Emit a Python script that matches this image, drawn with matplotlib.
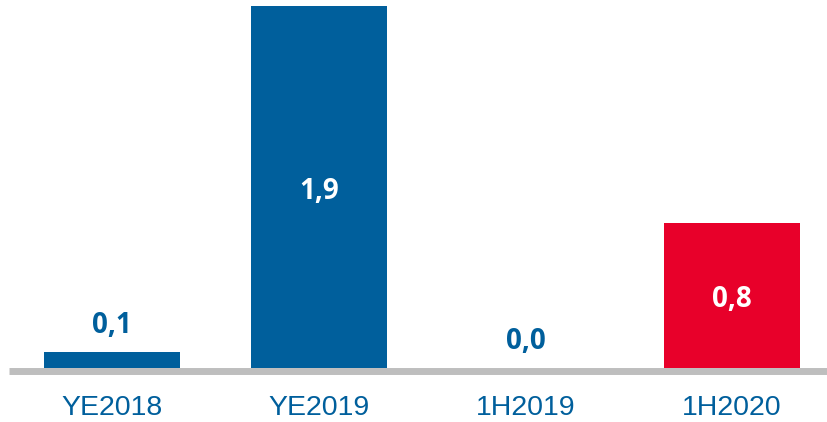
import matplotlib
matplotlib.use("Agg")
import matplotlib.pyplot as plt

categories = ["YE2018", "YE2019", "1H2019", "1H2020"]
values = [0.086, 1.9, 0.0, 0.76]
labels = ["0,1", "1,9", "0,0", "0,8"]
inside = [False, True, False, True]

BLUE = "#005F9C"
RED = "#E8002A"
GREY = "#BEBEBE"
colors = [BLUE, BLUE, BLUE, RED]

W, H = 828, 422
fig = plt.figure(figsize=(W / 100, H / 100), dpi=100)
ax = fig.add_axes([9 / W, 54 / H, (W - 9) / W, 362 / H])

x = list(range(len(categories)))
ax.bar(x, values, width=0.657, color=colors, zorder=3, clip_on=False)
ax.set_xlim(-0.5, 3.464)
ax.set_ylim(0, 1.9)

for s in ["top", "right", "left"]:
    ax.spines[s].set_visible(False)
sp = ax.spines["bottom"]
sp.set_color(GREY)
sp.set_linewidth(5.0)
sp.set_capstyle("butt")
sp.set_position(("outward", 2.5))
ax.set_yticks([])
ax.set_xticks(x)
ax.set_xticklabels(categories, fontsize=20.5, color=BLUE, family="Liberation Sans")
ax.tick_params(axis="x", length=0, pad=17)

for xi, v, lab, ins in zip(x, values, labels, inside):
    if ins:
        ax.annotate(lab, (xi, v / 2), xytext=(0, -3), textcoords="offset points",
                    ha="center", va="center", color="white",
                    fontsize=20, fontweight="bold", family="Open Sans", zorder=4)
    else:
        ax.annotate(lab, (xi, v), xytext=(0, 8.5), textcoords="offset points",
                    ha="center", va="bottom", color=BLUE, fontsize=20,
                    fontweight="bold", family="Open Sans", zorder=4)

fig.savefig("out.png", dpi=100)
